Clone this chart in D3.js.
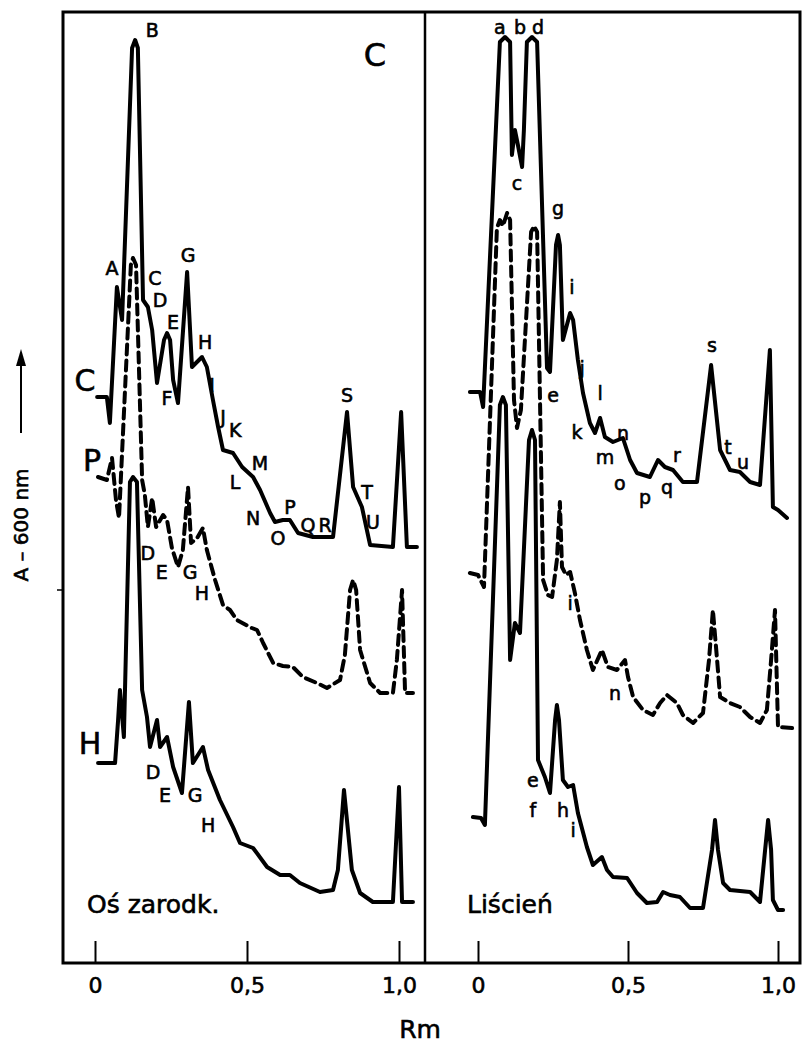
<!DOCTYPE html>
<html>
<head>
<meta charset="utf-8">
<script src="https://cdn.jsdelivr.net/npm/d3@7"></script>
<style>
  body { margin: 0; background: #fff; }
  text { font-family: "DejaVu Sans", sans-serif; fill: #000; stroke: #000; stroke-width: 0.6px; }
</style>
</head>
<body>
<svg id="chart" width="803" height="1052"></svg>
<script>
// densitometer traces, [Rm, A600]
var osC = [[0.007,56.6],[0.039,56.6],[0.049,54.0],[0.072,67.6],[0.089,64.3],[0.122,91.5],[0.132,92.3],[0.141,91.5],[0.158,66.3],[0.174,65.6],[0.188,63.3],[0.204,58.0],[0.227,62.3],[0.237,63.0],[0.247,62.3],[0.257,58.3],[0.273,56.0],[0.303,69.1],[0.319,59.6],[0.352,60.6],[0.368,59.6],[0.388,56.3],[0.405,53.6],[0.421,51.3],[0.454,51.0],[0.484,49.6],[0.520,48.6],[0.543,47.3],[0.576,45.0],[0.592,44.1],[0.618,44.3],[0.641,44.3],[0.668,43.0],[0.717,42.6],[0.783,42.6],[0.829,55.1],[0.849,47.6],[0.878,45.6],[0.905,41.8],[0.980,41.6],[1.007,55.1],[1.026,41.6],[1.059,41.6]]
var osP = [[0.010,48.6],[0.039,48.3],[0.056,50.5],[0.069,46.3],[0.079,44.5],[0.118,69.8],[0.125,70.5],[0.135,69.8],[0.155,48.3],[0.164,46.8],[0.174,43.6],[0.188,46.5],[0.201,43.6],[0.224,44.8],[0.237,44.3],[0.253,41.5],[0.273,39.6],[0.289,41.3],[0.306,47.6],[0.316,42.0],[0.336,42.5],[0.355,43.5],[0.368,41.3],[0.395,38.3],[0.421,35.8],[0.444,35.3],[0.467,34.3],[0.516,33.5],[0.533,33.3],[0.553,32.0],[0.586,30.0],[0.618,29.7],[0.651,29.6],[0.684,28.6],[0.730,28.0],[0.763,27.5],[0.806,28.3],[0.822,30.8],[0.839,37.3],[0.849,38.3],[0.859,37.3],[0.872,31.3],[0.905,28.0],[0.938,27.0],[0.980,27.0],[0.993,30.3],[1.010,37.3],[1.020,27.0],[1.046,27.0]]
var osH = [[0.010,20.0],[0.066,20.0],[0.076,24.3],[0.082,27.3],[0.095,22.6],[0.115,48.1],[0.125,48.6],[0.138,48.1],[0.155,27.3],[0.171,24.6],[0.181,21.6],[0.204,24.3],[0.214,21.6],[0.237,22.6],[0.257,19.6],[0.286,17.0],[0.309,26.1],[0.322,20.0],[0.355,21.6],[0.372,19.3],[0.411,16.3],[0.454,13.6],[0.477,12.0],[0.520,11.5],[0.566,9.6],[0.609,8.8],[0.641,8.8],[0.674,8.0],[0.740,7.1],[0.783,7.3],[0.799,9.3],[0.819,17.3],[0.845,9.3],[0.872,7.0],[0.914,6.1],[0.980,6.1],[1.000,17.6],[1.010,6.1],[1.046,6.1]]

var liC = [[-0.027,57.1],[0.007,57.1],[0.017,55.6],[0.073,92.1],[0.090,92.6],[0.107,92.1],[0.113,80.8],[0.123,83.3],[0.133,81.8],[0.147,79.6],[0.153,83.3],[0.163,92.1],[0.180,92.6],[0.197,92.1],[0.230,59.5],[0.240,59.1],[0.260,71.8],[0.267,72.8],[0.273,71.8],[0.283,62.3],[0.307,65.0],[0.317,64.3],[0.333,60.3],[0.350,57.0],[0.373,54.0],[0.390,53.0],[0.407,54.5],[0.423,52.6],[0.450,52.1],[0.483,52.5],[0.507,50.3],[0.530,49.0],[0.573,48.6],[0.600,50.3],[0.623,49.6],[0.650,49.3],[0.683,48.1],[0.730,48.1],[0.777,59.8],[0.807,51.3],[0.840,49.3],[0.873,49.1],[0.907,48.1],[0.940,47.8],[0.973,61.3],[0.983,45.6],[1.000,45.3],[1.030,44.5]]
var liP = [[-0.027,39.0],[0.000,38.8],[0.020,37.6],[0.063,73.5],[0.073,74.3],[0.083,73.7],[0.097,75.0],[0.107,74.3],[0.120,56.3],[0.130,53.5],[0.143,55.3],[0.177,73.1],[0.187,73.7],[0.197,73.1],[0.217,38.3],[0.233,36.8],[0.247,36.6],[0.263,40.3],[0.273,46.1],[0.280,39.6],[0.293,38.8],[0.307,39.1],[0.323,37.0],[0.340,34.3],[0.363,31.3],[0.383,29.3],[0.413,31.3],[0.433,29.6],[0.463,29.3],[0.490,30.3],[0.500,28.6],[0.517,26.6],[0.550,25.3],[0.583,24.8],[0.607,26.0],[0.630,26.8],[0.663,26.0],[0.683,24.8],[0.717,24.0],[0.750,25.0],[0.770,30.3],[0.783,35.3],[0.797,30.3],[0.807,26.6],[0.840,26.0],[0.873,25.6],[0.907,24.6],[0.940,24.0],[0.963,25.3],[0.977,30.3],[0.990,35.3],[1.000,23.6],[1.047,23.5]]
var liH = [[-0.017,14.6],[0.010,14.5],[0.023,13.8],[0.073,55.8],[0.083,56.6],[0.093,55.8],[0.107,30.3],[0.123,34.0],[0.140,33.0],[0.170,52.3],[0.180,53.3],[0.190,52.3],[0.200,20.3],[0.223,18.6],[0.240,17.0],[0.257,24.3],[0.263,25.8],[0.270,24.3],[0.283,18.3],[0.300,17.6],[0.317,17.8],[0.333,15.0],[0.363,11.6],[0.383,9.8],[0.413,10.6],[0.430,9.3],[0.450,8.6],[0.497,8.5],[0.530,7.0],[0.563,6.0],[0.597,6.1],[0.617,7.1],[0.640,6.8],[0.673,6.6],[0.707,5.5],[0.750,5.5],[0.780,11.3],[0.790,14.3],[0.800,11.3],[0.817,8.0],[0.840,7.3],[0.907,7.1],[0.940,6.1],[0.957,11.3],[0.967,14.3],[0.977,11.3],[0.983,6.3],[1.000,5.3],[1.017,5.3]]

var tickValues = [0, 0.5, 1]
var tickLabels = ['0', '0,5', '1,0']

var osLetters = [['B',0.188,93.3],['A',0.056,69.5],['C',0.197,68.5],['D',0.214,66.3],['E',0.257,64.1],['G',0.306,70.8],['H',0.362,62.1],['I',0.385,57.8],['F',0.237,56.5],['J',0.421,54.6],['K',0.461,53.3],['L',0.461,48.1],['M',0.543,50.0],['N',0.520,44.5],['O',0.602,42.5],['P',0.641,45.6],['Q',0.701,43.8],['R',0.757,43.8],['S',0.829,56.8],['T',0.895,47.1],['U',0.914,44.1],['D',0.174,41.0],['E',0.220,39.1],['G',0.313,39.1],['H',0.352,37.0],['D',0.191,19.1],['E',0.230,16.8],['G',0.329,16.8],['H',0.372,13.8]]
var liLetters = [['a',0.073,93.6],['b',0.140,93.6],['d',0.200,93.6],['c',0.130,78.0],['g',0.267,75.5],['i',0.313,67.6],['j',0.347,59.5],['e',0.250,56.8],['k',0.330,53.1],['l',0.407,57.0],['m',0.423,50.6],['n',0.483,53.0],['o',0.473,48.0],['p',0.557,46.6],['q',0.630,47.6],['r',0.663,50.8],['s',0.780,61.8],['t',0.833,51.6],['u',0.883,50.1],['i',0.307,36.0],['n',0.457,27.0],['e',0.183,18.3],['f',0.183,15.3],['h',0.283,15.3],['i',0.317,13.3]]
var traceNames = [['C',-0.033,58.3],['P',-0.010,50.3],['H',-0.016,22.0]]

var svg = d3.select('#chart')
var topY = 12, bottomY = 963

var y = d3.scaleLinear().domain([0, 95.1]).range([bottomY, topY])

var panels = [
  {x0: 63, x1: 425, range: [95, 399], traces: [osC, osP, osH], letters: osLetters, name: 'Oś zarodk.', nameX: 24},
  {x0: 425, x1: 800, range: [478, 778], traces: [liC, liP, liH], letters: liLetters, name: 'Liścień', nameX: 42}
]

panels.forEach(function (p, i) {
  var x = d3.scaleLinear().domain([0, 1]).range(p.range)
  var g = svg.append('g')

  var line = d3.line()
    .x(function (d) { return x(d[0]) })
    .y(function (d) { return y(d[1]) })

  g.selectAll('path.trace')
    .data(p.traces)
    .enter().append('path')
    .attr('class', 'trace')
    .attr('d', line)
    .attr('fill', 'none')
    .attr('stroke', '#000')
    .attr('stroke-width', 4)
    .attr('stroke-linejoin', 'round')
    .attr('stroke-linecap', 'round')
    .attr('stroke-dasharray', function (d, j) { return j === 1 ? '10,6' : null })

  g.selectAll('text.letter')
    .data(p.letters)
    .enter().append('text')
    .attr('class', 'letter')
    .attr('x', function (d) { return x(d[1]) })
    .attr('y', function (d) { return y(d[2]) })
    .attr('text-anchor', 'middle')
    .attr('dominant-baseline', 'central')
    .attr('font-size', '19px')
    .text(function (d) { return d[0] })

  var axis = d3.axisBottom(x)
    .tickValues(tickValues)
    .tickFormat(function (d, j) { return tickLabels[j] })
    .tickSizeInner(-22)
    .tickSizeOuter(0)
    .tickPadding(14)

  var ax = g.append('g')
    .attr('transform', 'translate(0,' + bottomY + ')')
    .call(axis)
  ax.select('.domain').remove()
  ax.selectAll('line').attr('stroke', '#000').attr('stroke-width', 2)
  ax.selectAll('text')
    .attr('font-size', '22px')
    .attr('font-family', '"DejaVu Sans", sans-serif')
    .attr('fill', '#000')

  g.append('text')
    .attr('x', p.x0 + p.nameX)
    .attr('y', bottomY - 50)
    .attr('font-size', '25px')
    .text(p.name)

  if (i === 0) {
    g.selectAll('text.name')
      .data(traceNames)
      .enter().append('text')
      .attr('class', 'name')
      .attr('x', function (d) { return x(d[1]) })
      .attr('y', function (d) { return y(d[2]) })
      .attr('text-anchor', 'middle')
      .attr('dominant-baseline', 'central')
      .attr('font-size', '30px')
      .text(function (d) { return d[0] })

    g.append('text')
      .attr('x', x(0.921))
      .attr('y', y(90.8))
      .attr('text-anchor', 'middle')
      .attr('dominant-baseline', 'central')
      .attr('font-size', '32px')
      .text('C')
  }
})

// frame
svg.append('rect')
  .attr('x', 63).attr('y', topY)
  .attr('width', 800 - 63).attr('height', bottomY - topY)
  .attr('fill', 'none').attr('stroke', '#000').attr('stroke-width', 3)
svg.append('line')
  .attr('x1', 425).attr('x2', 425).attr('y1', topY).attr('y2', bottomY)
  .attr('stroke', '#000').attr('stroke-width', 2.5)
svg.append('line')
  .attr('x1', 57).attr('x2', 63).attr('y1', y(37.3)).attr('y2', y(37.3))
  .attr('stroke', '#000').attr('stroke-width', 1.5)

// y label with arrow
svg.append('text')
  .attr('transform', 'translate(28,525) rotate(-90)')
  .attr('text-anchor', 'middle')
  .attr('font-size', '20px')
  .text('A – 600 nm')
svg.append('line')
  .attr('x1', 21).attr('x2', 21).attr('y1', 433).attr('y2', 362)
  .attr('stroke', '#000').attr('stroke-width', 2)
svg.append('path')
  .attr('d', 'M21,349 L16,366 L26,366 Z')
  .attr('fill', '#000')

svg.append('text')
  .attr('x', 420).attr('y', 1038)
  .attr('text-anchor', 'middle')
  .attr('font-size', '25px')
  .text('Rm')
</script>
</body>
</html>
